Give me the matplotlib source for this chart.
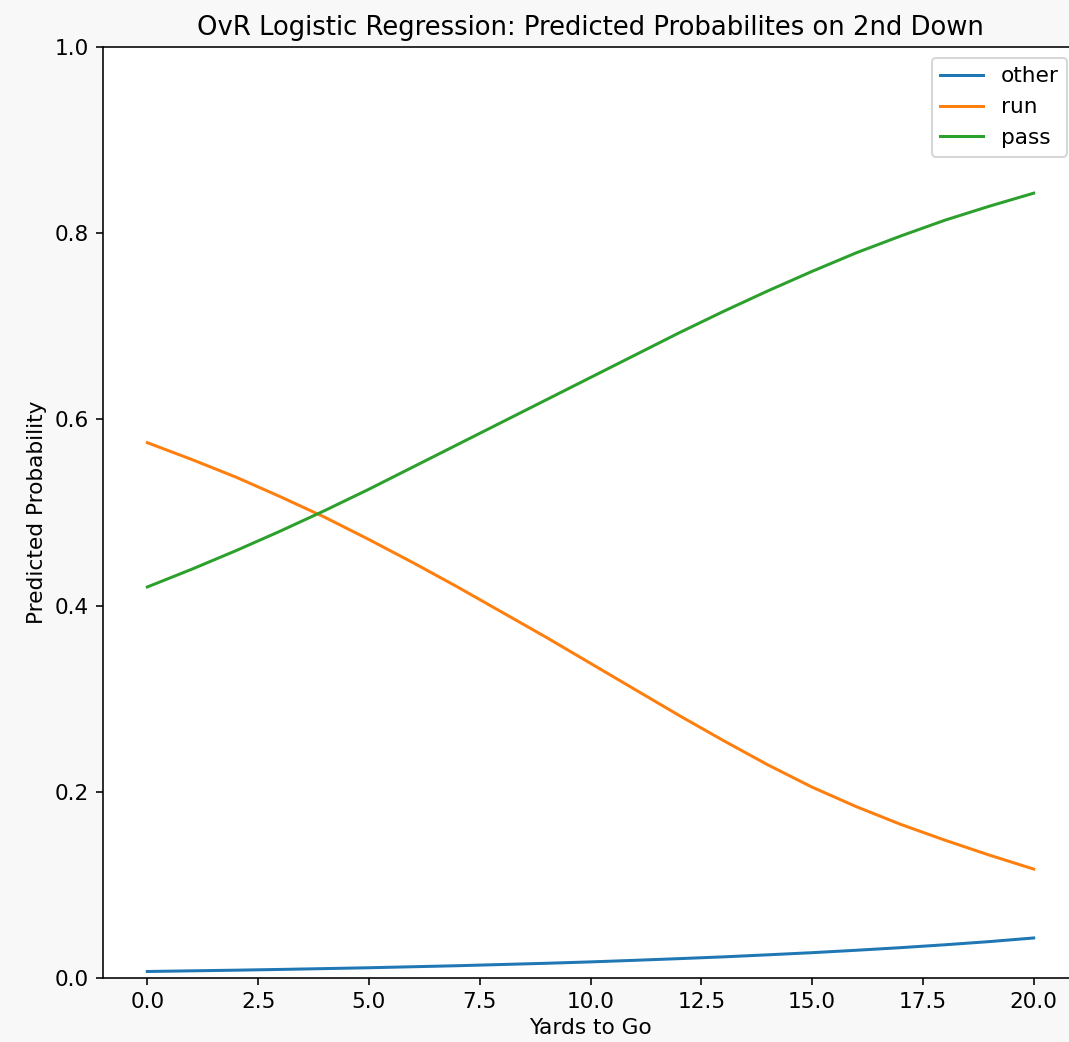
import matplotlib.pyplot as plt
import numpy as np

# yards to go on 2nd down
yards = np.arange(0, 21)

# predicted class probabilities from the OvR model
p_other = [0.0070, 0.0077, 0.0084, 0.0092, 0.0101, 0.0110, 0.0121, 0.0132, 0.0145, 0.0158, 0.0173,
           0.0190, 0.0208, 0.0227, 0.0249, 0.0272, 0.0298, 0.0326, 0.0357, 0.0391, 0.0430]
p_run = [0.575, 0.557, 0.538, 0.517, 0.495, 0.471, 0.446, 0.420, 0.393, 0.366, 0.338,
         0.310, 0.282, 0.255, 0.229, 0.205, 0.184, 0.165, 0.148, 0.132, 0.117]
p_pass = [0.420, 0.439, 0.459, 0.480, 0.502, 0.525, 0.549, 0.573, 0.597, 0.621, 0.645,
          0.669, 0.693, 0.716, 0.738, 0.759, 0.779, 0.797, 0.814, 0.829, 0.843]

plt.rcParams['font.size'] = 10.8

fig = plt.figure(figsize=(1069 / 144, 1042 / 144), dpi=144, facecolor='#f8f8f8')
ax = fig.add_axes([103 / 1069, 64 / 1042, 975 / 1069, 931 / 1042])

ax.plot(yards, p_other, label='other')
ax.plot(yards, p_run, label='run')
ax.plot(yards, p_pass, label='pass')

ax.set_ylim(0, 1)
ax.set_xlabel("Yards to Go", labelpad=3)
ax.set_ylabel("Predicted Probability")
ax.set_title("OvR Logistic Regression: Predicted Probabilites on 2nd Down")
ax.legend(loc='upper right')

fig.savefig("out.png", dpi=144, facecolor=fig.get_facecolor())
